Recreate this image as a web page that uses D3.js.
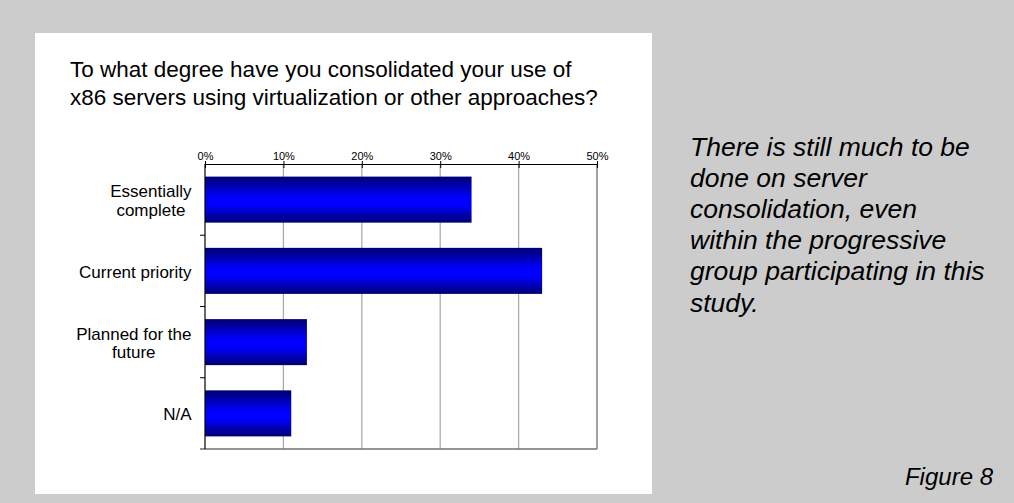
<!DOCTYPE html>
<html>
<head>
<meta charset="utf-8">
<script src="https://cdn.jsdelivr.net/npm/d3@7"></script>
<style>
  html, body { margin: 0; padding: 0; background: #cccccc; }
  svg { display: block; }
  text { font-family: "Liberation Sans", Arial, Helvetica, sans-serif; fill: #000; }
</style>
</head>
<body>
<svg id="chart" width="1014" height="503"></svg>
<script>
const categories = ["Essentially\ncomplete", "Current priority", "Planned for the\nfuture", "N/A"];
const values = [34, 43, 13, 11];
const tickValues = [0, 10, 20, 30, 40, 50];
const tickLabels = ["0%", "10%", "20%", "30%", "40%", "50%"];
const titleLines = ["To what degree have you consolidated your use of",
                    "x86 servers using virtualization or other approaches?"];
const noteLines = ["There is still much to be", "done on server", "consolidation, even",
                   "within the progressive", "group participating in this", "study."];
const figureLabel = "Figure 8";

const svg = d3.select("#chart");
const W = 1014, H = 503;

svg.append("rect").attr("x", 0).attr("y", 0).attr("width", W).attr("height", H).attr("fill", "#cccccc");
svg.append("rect").attr("x", 35).attr("y", 33).attr("width", 617).attr("height", 461).attr("fill", "#ffffff");

// gradient
const defs = svg.append("defs");
const grad = defs.append("linearGradient").attr("id", "barGrad")
  .attr("x1", 0).attr("y1", 0).attr("x2", 0).attr("y2", 1);
[[0, "#000070"], [0.45, "#0000ff"], [0.62, "#0000ff"], [1, "#000070"]].forEach(s =>
  grad.append("stop").attr("offset", s[0]).attr("stop-color", s[1]));

// title
svg.append("g").selectAll("text").data(titleLines).join("text")
  .attr("x", 70).attr("y", (d, i) => 77 + i * 27.5)
  .attr("font-size", 22.5).text(d => d);

const plot = { left: 205, right: 597, top: 164, bottom: 449 };
const x = d3.scaleLinear().domain([0, 50]).range([plot.left, plot.right]);
const y = d3.scaleBand().domain(categories).range([plot.top, plot.bottom]).paddingInner(0.354).paddingOuter(0.177);

// gridlines
svg.append("g").selectAll("line").data(tickValues.filter(v => v > 0 && v < 50)).join("line")
  .attr("x1", d => x(d)).attr("x2", d => x(d))
  .attr("y1", plot.top).attr("y2", plot.bottom)
  .attr("stroke", "#acacac").attr("stroke-width", 1.3);

// right border and bottom border
svg.append("line").attr("x1", x(50)).attr("x2", x(50)).attr("y1", plot.top).attr("y2", plot.bottom)
  .attr("stroke", "#707070").attr("stroke-width", 1.3);
svg.append("line").attr("x1", plot.left - 5).attr("x2", plot.right).attr("y1", plot.bottom).attr("y2", plot.bottom)
  .attr("stroke", "#707070").attr("stroke-width", 1.3);

// bars
svg.append("g").selectAll("rect").data(values).join("rect")
  .attr("x", x(0))
  .attr("y", (d, i) => y(categories[i]))
  .attr("width", d => x(d) - x(0))
  .attr("height", y.bandwidth())
  .attr("fill", "url(#barGrad)");

// top axis
const xAxis = d3.axisTop(x).tickValues(tickValues).tickFormat((d, i) => tickLabels[i])
  .tickSizeInner(3).tickSizeOuter(0).tickPadding(1);
const gx = svg.append("g").attr("transform", `translate(0,${plot.top})`).call(xAxis);
gx.select(".domain").attr("stroke", "#000").attr("stroke-width", 1.2);
gx.selectAll(".tick line").attr("stroke", "#000").attr("y1", 4).attr("y2", -3);
gx.selectAll(".tick text").attr("font-size", 11).attr("font-family", "Liberation Sans, Arial, sans-serif").attr("fill", "#000");

// left axis line
svg.append("line").attr("x1", plot.left).attr("x2", plot.left).attr("y1", plot.top).attr("y2", plot.bottom)
  .attr("stroke", "#000").attr("stroke-width", 1.2);
// left ticks at category boundaries
const step = (plot.bottom - plot.top) / categories.length;
svg.append("g").selectAll("line").data(d3.range(1, categories.length)).join("line")
  .attr("x1", plot.left - 5).attr("x2", plot.left)
  .attr("y1", d => plot.top + d * step).attr("y2", d => plot.top + d * step)
  .attr("stroke", "#000").attr("stroke-width", 1);

// category labels: block right-aligned, lines centered
const labelRight = 191.5;
const lh = 18.7;
categories.forEach((c, i) => {
  const lines = c.split("\n");
  const cy = y(c) + y.bandwidth() / 2;
  const g = svg.append("g");
  const texts = g.selectAll("text").data(lines).join("text")
    .attr("font-size", 17)
    .attr("y", (d, j) => cy + (j - (lines.length - 1) / 2) * lh + 7)
    .text(d => d);
  let maxW = 0;
  texts.each(function () { maxW = Math.max(maxW, this.getComputedTextLength()); });
  texts.attr("text-anchor", "middle").attr("x", labelRight - maxW / 2);
});

// note
svg.append("g").selectAll("text").data(noteLines).join("text")
  .attr("x", 690).attr("y", (d, i) => 155.5 + i * 31.2)
  .attr("font-size", 26.5).attr("font-style", "italic").text(d => d);

svg.append("text").attr("x", 993).attr("y", 485).attr("text-anchor", "end")
  .attr("font-size", 24).attr("font-style", "italic").text(figureLabel);
</script>
</body>
</html>
